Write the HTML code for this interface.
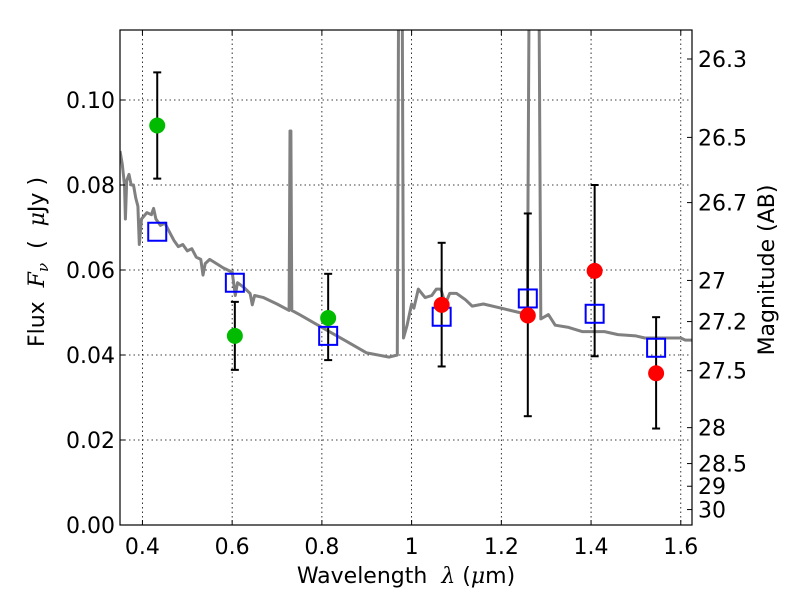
<!DOCTYPE html>
<html><head><meta charset="utf-8"><style>
body{margin:0;background:#fff}
svg{display:block;font-family:"DejaVu Sans","Liberation Sans",sans-serif}
</style></head><body>
<svg id="chart" width="800" height="600">
<rect width="800" height="600" fill="#fff"/>
<defs><clipPath id="clip"><rect x="120" y="30" width="572" height="495"/></clipPath></defs>
<g id="grid"></g>
<g id="spec"></g>
<g id="marks"></g>
<rect x="120" y="30" width="572" height="495" fill="none" stroke="#000" stroke-width="1.2"/>
<g id="axes"></g>
<text x="406" y="583" font-size="22" text-anchor="middle" xml:space="preserve">Wavelength  <tspan font-style="italic" font-family="DejaVu Serif, serif">λ</tspan> (<tspan font-style="italic" font-family="DejaVu Serif, serif">μ</tspan>m)</text>
<text transform="translate(44,262) rotate(-90)" font-size="22" text-anchor="middle" xml:space="preserve">Flux  <tspan font-style="italic" font-family="DejaVu Serif, serif">F<tspan font-size="15" dy="4">ν</tspan></tspan><tspan dy="-4">  (  </tspan><tspan font-style="italic" font-family="DejaVu Serif, serif">μ</tspan>Jy )</text>
<text transform="translate(774,270) rotate(-90)" font-size="22" text-anchor="middle">Magnitude (AB)</text>
</svg>
<script>
const xTicks=[0.4,0.6,0.8,1.0,1.2,1.4,1.6];
const xTickLabels=["0.4","0.6","0.8","1","1.2","1.4","1.6"];
const yTicks=[0,0.02,0.04,0.06,0.08,0.10];
const yTickLabels=["0.00","0.02","0.04","0.06","0.08","0.10"];
const magTicks=[26.3,26.5,26.7,27,27.2,27.5,28,28.5,29,30];
const magLabels=["26.3","26.5","26.7","27","27.2","27.5","28","28.5","29","30"];
const specX=[0.35,0.355,0.36,0.362,0.365,0.37,0.375,0.38,0.385,0.39,0.393,0.398,0.41,0.42,0.425,0.43,0.44,0.45,0.46,0.47,0.48,0.49,0.5,0.51,0.52,0.53,0.535,0.54,0.55,0.565,0.58,0.6,0.607,0.612,0.625,0.64,0.645,0.65,0.67,0.7,0.727,0.729,0.731,0.733,0.75,0.8,0.85,0.9,0.95,0.968,0.971,0.979,0.982,0.99,1.0,1.005,1.015,1.03,1.045,1.055,1.065,1.075,1.085,1.1,1.12,1.135,1.16,1.2,1.24,1.258,1.262,1.284,1.288,1.305,1.32,1.35,1.38,1.4,1.43,1.46,1.5,1.52,1.56,1.6,1.61,1.625];
const specY=[0.088,0.085,0.08,0.072,0.081,0.0825,0.08,0.08,0.077,0.075,0.066,0.072,0.0735,0.073,0.0745,0.072,0.0705,0.071,0.069,0.067,0.0655,0.066,0.0645,0.065,0.063,0.0625,0.0588,0.0615,0.0625,0.0615,0.0605,0.0595,0.054,0.057,0.056,0.0545,0.0518,0.054,0.0535,0.052,0.0505,0.0927,0.0927,0.0505,0.0495,0.0465,0.0435,0.0405,0.0395,0.040,0.125,0.125,0.044,0.047,0.052,0.051,0.0555,0.0535,0.054,0.0555,0.0555,0.052,0.0545,0.0545,0.053,0.0515,0.052,0.051,0.05,0.0495,0.125,0.125,0.0485,0.0495,0.047,0.0465,0.0455,0.0455,0.0455,0.0448,0.0445,0.044,0.044,0.044,0.0435,0.0435];
const photX=[0.433,0.606,0.814,1.067,1.259,1.408,1.545];
const photY=[0.094,0.0445,0.0487,0.0518,0.0493,0.0598,0.0357];
const errLo=[0.0815,0.0365,0.0388,0.0373,0.0256,0.0397,0.0227];
const errHi=[0.1065,0.0525,0.0591,0.0664,0.0733,0.0800,0.0489];
const photColor=["#00bb00","#00bb00","#00bb00","#ff0000","#ff0000","#ff0000","#ff0000"];
const modelY=[0.069,0.057,0.0445,0.049,0.0533,0.0497,0.0417];

const L=120,R=692,T=30,B=525,X0=0.35,X1=1.625,Y0=0,Y1=0.11647;
const sx=v=>L+(v-X0)/(X1-X0)*(R-L);
const sy=v=>B-(v-Y0)/(Y1-Y0)*(B-T);
const NS="http://www.w3.org/2000/svg";
function mk(tag,attrs,parent,txt){const e=document.createElementNS(NS,tag);for(const k in attrs)e.setAttribute(k,attrs[k]);if(txt!=null)e.textContent=txt;document.getElementById(parent).appendChild(e);return e;}

xTicks.forEach((v,i)=>{const x=sx(v);
 const g=mk('line',{x1:x,x2:x,y1:T,y2:B,stroke:'#000','stroke-width':0.8,'stroke-dasharray':'1.5,3'},'grid');
 
 
 mk('line',{x1:x,x2:x,y1:B,y2:B-5,stroke:'#000'},'axes');
 mk('line',{x1:x,x2:x,y1:T,y2:T+5,stroke:'#000'},'axes');
 const t=mk('text',{x:x,y:B+29,'font-size':22,'text-anchor':'middle'},'axes',xTickLabels[i]);
 
 
});
yTicks.forEach((v,i)=>{const y=sy(v);
 const g=mk('line',{x1:L,x2:R,y1:y,y2:y,stroke:'#000','stroke-width':0.8,'stroke-dasharray':'1.5,3'},'grid');
 
 
 mk('line',{x1:L,x2:L+5,y1:y,y2:y,stroke:'#000'},'axes');
 const t=mk('text',{x:L-5,y:y+8,'font-size':22,'text-anchor':'end'},'axes',yTickLabels[i]);
 
 
});
magTicks.forEach((m,i)=>{const f=Math.pow(10,(23.9-m)/2.5);const y=sy(f);
 mk('line',{x1:R-5,x2:R,y1:y,y2:y,stroke:'#000'},'axes');
 const t=mk('text',{x:R+6,y:y+8,'font-size':22},'axes',magLabels[i]);
 
 
});
const pts=specX.map((v,i)=>sx(v).toFixed(1)+','+sy(specY[i]).toFixed(1)).join(' ');
const pl=mk('polyline',{points:pts,fill:'none',stroke:'#808080','stroke-width':3,'stroke-linejoin':'round','clip-path':'url(#clip)'},'spec');


photX.forEach((v,i)=>{const x=sx(v);
 const e=mk('line',{x1:x,x2:x,y1:sy(errLo[i]),y2:sy(errHi[i]),stroke:'#000','stroke-width':2},'marks');
 
 
 mk('line',{x1:x-4,x2:x+4,y1:sy(errLo[i]),y2:sy(errLo[i]),stroke:'#000','stroke-width':2},'marks');
 mk('line',{x1:x-4,x2:x+4,y1:sy(errHi[i]),y2:sy(errHi[i]),stroke:'#000','stroke-width':2},'marks');
 const s=mk('rect',{x:x-9,y:sy(modelY[i])-9,width:18,height:18,fill:'none',stroke:'#0000ff','stroke-width':2},'marks');
 
 
 const c=mk('circle',{cx:x,cy:sy(photY[i]),r:8,fill:photColor[i]},'marks');
 
 
});
</script>
</body></html>
